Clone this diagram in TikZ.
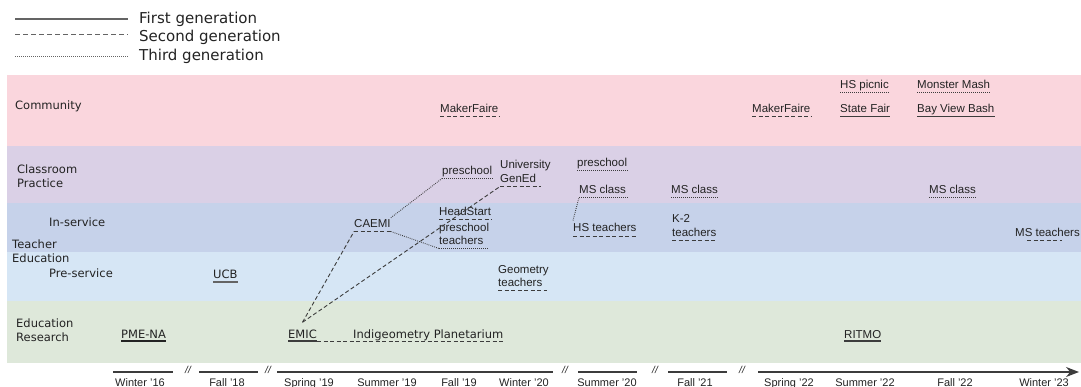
\documentclass[tikz,border=0pt]{standalone}
\usepackage{fontspec}
\setmainfont{Liberation Sans}
\newfontfamily\verd{DejaVu Sans}
\usetikzlibrary{arrows.meta}
\definecolor{cpink}{RGB}{250,214,221}
\definecolor{clav}{RGB}{218,208,230}
\definecolor{cblue}{RGB}{198,210,234}
\definecolor{clblue}{RGB}{214,230,245}
\definecolor{cgreen}{RGB}{222,232,218}
\definecolor{txt}{RGB}{35,35,35}
\definecolor{ln}{RGB}{60,60,60}
\definecolor{lg}{RGB}{100,100,100}
\begin{document}
\begin{tikzpicture}[x=1pt,y=-1pt,
  ev/.style={anchor=base west,inner sep=0pt,text=txt,font=\fontsize{11.5}{13}\selectfont},
  vev/.style={anchor=base west,inner sep=0pt,text=txt,font=\verd\fontsize{11.5}{13}\selectfont},
  leg/.style={anchor=base west,inner sep=0pt,text=txt,font=\verd\fontsize{15}{17}\selectfont},
  ax/.style={anchor=base,inner sep=0pt,text=txt,font=\fontsize{11}{13}\selectfont},
  brk/.style={inner sep=0pt,text=txt,font=\itshape\fontsize{10}{11}\selectfont},
  gone/.style={draw=ln,line width=1.1pt},
  gtwo/.style={draw=ln,line width=0.9pt,dash pattern=on 4pt off 2.5pt},
  gthree/.style={draw=ln,line width=0.9pt,dash pattern=on 0.8pt off 1.2pt},
  lone/.style={draw=lg,line width=1.1pt},
  ltwo/.style={draw=lg,line width=1pt,dash pattern=on 5pt off 3pt},
  lthree/.style={draw=lg,line width=0.8pt,dash pattern=on 0.7pt off 1.3pt},
  axis/.style={draw=ln,line width=1.2pt}]
\useasboundingbox (0,0) rectangle (1081,387);
% legend
\draw[lone] (15,19) -- (128,19);
\draw[ltwo] (15,35) -- (128,35);
\draw[lthree] (15,56) -- (128,56);
\node[leg] (l1) at (139,23.5) {First generation};
\node[leg] (l2) at (139,41.5) {Second generation};
\node[leg] (l3) at (139,60.5) {Third generation};
% bands
\fill[cpink] (7,75) rectangle (1081,146);
\fill[clav] (7,146) rectangle (1081,203);
\fill[cblue] (7,203) rectangle (1081,252);
\fill[clblue] (7,252) rectangle (1081,301);
\fill[cgreen] (7,301) rectangle (1081,363);
% band labels
\node[vev] (b1) at (15,110) {Community};
\node[vev] (b2a) at (17,174) {Classroom};
\node[vev] (b2b) at (17,188) {Practice};
\node[vev] (b3) at (49,227) {In-service};
\node[vev] (b4a) at (12,249) {Teacher};
\node[vev] (b4b) at (12,263) {Education};
\node[vev] (b5) at (49,277) {Pre-service};
\node[vev] (b6a) at (16,327) {Education};
\node[vev] (b6b) at (16,341) {Research};
% community
\node[ev] (mfA) at (440,113) {MakerFaire};
\node[ev] (mfB) at (752,113) {MakerFaire};
\node[ev] (hsp) at (840,89) {HS picnic};
\node[ev] (sf) at (840,113) {State Fair};
\node[ev] (mm) at (917,89) {Monster Mash};
\node[ev] (bvb) at (917,113) {Bay View Bash};
\draw[gtwo] ([yshift=-3.5pt]mfA.base west) -- ([yshift=-3.5pt]mfA.base east);
\draw[gtwo] ([yshift=-3.5pt]mfB.base west) -- ([yshift=-3.5pt]mfB.base east);
\draw[gthree] ([yshift=-3.5pt]hsp.base west) -- ([yshift=-3.5pt]hsp.base east);
\draw[gone] ([yshift=-3.5pt]sf.base west) -- ([yshift=-3.5pt]sf.base east);
\draw[gthree] ([yshift=-3.5pt]mm.base west) -- ([yshift=-3.5pt]mm.base east);
\draw[gone] ([yshift=-3.5pt]bvb.base west) -- ([yshift=-3.5pt]bvb.base east);
% classroom practice
\node[ev] (psA) at (442,175) {preschool};
\node[ev] (uni) at (500,169) {University};
\node[ev] (ged) at (500,183) {GenEd};
\node[ev] (psB) at (577,167) {preschool};
\node[ev] (msA) at (579,194) {MS class};
\node[ev] (msB) at (671,194) {MS class};
\node[ev] (msC) at (929,194) {MS class};
\draw[gthree] ([yshift=-3.5pt]psA.base west) -- ([yshift=-3.5pt]psA.base east);
\draw[gtwo] ([yshift=-3.5pt]ged.base west) -- ([yshift=-3.5pt,xshift=5pt]ged.base east);
\draw[gthree] ([yshift=-3.5pt]psB.base west) -- ([yshift=-3.5pt]psB.base east);
\draw[gthree] ([yshift=-3.5pt]msA.base west) -- ([yshift=-3.5pt,xshift=2pt]msA.base east);
\draw[gthree] ([yshift=-3.5pt]msB.base west) -- ([yshift=-3.5pt]msB.base east);
\draw[gthree] ([yshift=-3.5pt]msC.base west) -- ([yshift=-3.5pt]msC.base east);
% in-service
\node[ev] (caemi) at (354,228) {CAEMI};
\node[ev] (hd) at (439,216) {HeadStart};
\node[ev] (pst) at (439,232) {preschool};
\node[ev] (tch) at (439,245) {teachers};
\node[ev] (hst) at (573,232) {HS teachers};
\node[ev] (k2) at (672,223) {K-2};
\node[ev] (k2t) at (672,237) {teachers};
\node[ev] (mst) at (1015,237) {MS teachers};
\draw[gtwo] ([yshift=-3.5pt]caemi.base west) -- ([yshift=-3.5pt]caemi.base east);
\draw[gtwo] ([yshift=-3.5pt]hd.base west) -- ([yshift=-3.5pt]hd.base east);
\draw[gthree] ([yshift=-3.5pt]tch.base west) -- ([yshift=-3.5pt,xshift=4pt]tch.base east);
\draw[gtwo] ([yshift=-4.5pt]hst.base west) -- ([yshift=-4.5pt]hst.base east);
\draw[gtwo] ([yshift=-3.5pt]k2t.base west) -- ([yshift=-3.5pt]k2t.base east);
\draw[gtwo] ([yshift=-3.5pt,xshift=12pt]mst.base west) -- ([yshift=-3.5pt,xshift=47pt]mst.base west);
% pre-service
\node[vev] (ucb) at (213,279) {UCB};
\node[ev] (geo) at (498,273) {Geometry};
\node[ev] (geot) at (498,287) {teachers};
\draw[draw=lg,line width=1.1pt] ([yshift=-3pt]ucb.base west) -- ([yshift=-3pt]ucb.base east);
\draw[gtwo] ([yshift=-3.5pt]geot.base west) -- ([yshift=-3.5pt,xshift=4pt]geot.base east);
% education research
\node[vev] (pme) at (121,338) {PME-NA};
\node[vev] (emic) at (288,338) {EMIC};
\node[vev] (indi) at (353,338) {Indigeometry Planetarium};
\node[ev] (ritmo) at (844,338) {RITMO};
\draw[draw=txt,line width=1.3pt] ([yshift=-3pt]pme.base west) -- ([yshift=-3pt]pme.base east);
\draw[gone] ([yshift=-3pt]emic.base west) -- ([yshift=-3pt]emic.base east);
\draw[gtwo] ([yshift=-3pt]emic.base east) -- ([yshift=-3pt]indi.base east);
\draw[gone] ([yshift=-3pt]ritmo.base west) -- ([yshift=-3pt]ritmo.base east);
% connectors
\draw[gtwo] ([yshift=7pt]emic.north) -- ([yshift=-3.5pt]caemi.base west);
\draw[gtwo] ([yshift=7pt]emic.north) -- ([yshift=-3.5pt]ged.base west);
\draw[gthree] ([yshift=2pt]caemi.north east) -- ([yshift=-3.5pt]psA.base west);
\draw[gthree] ([yshift=-3.5pt]caemi.base east) -- ([yshift=-3.5pt]tch.base west);
\draw[gthree] ([yshift=3pt]hst.north west) -- ([yshift=-3.5pt]msA.base west);
% axis
\draw[axis] (113,372) -- (173,372);
\draw[axis] (199,372) -- (258,372);
\draw[axis] (277,372) -- (553,372);
\draw[axis] (578,372) -- (637,372);
\draw[axis] (668,372) -- (727,372);
\draw[axis,-{Stealth[length=13pt,width=10pt]}] (758,372) -- (1079,372);
\node[brk] (k1) at (188,370) {//};
\node[brk] (k2b) at (268,370) {//};
\node[brk] (k3) at (565,370) {//};
\node[brk] (k4) at (655,370) {//};
\node[brk] (k5) at (742,370) {//};
\node[ax] (t1) at (140,386) {Winter ’16};
\node[ax] (t2) at (227,386) {Fall ’18};
\node[ax] (t3) at (309,386) {Spring ’19};
\node[ax] (t4) at (387,386) {Summer ’19};
\node[ax] (t5) at (459,386) {Fall ’19};
\node[ax] (t6) at (524,386) {Winter ’20};
\node[ax] (t7) at (607,386) {Summer ’20};
\node[ax] (t8) at (695,386) {Fall ’21};
\node[ax] (t9) at (789,386) {Spring ’22};
\node[ax] (t10) at (865,386) {Summer ’22};
\node[ax] (t11) at (955,386) {Fall ’22};
\node[ax] (t12) at (1044,386) {Winter ’23};
\end{tikzpicture}
\end{document}
